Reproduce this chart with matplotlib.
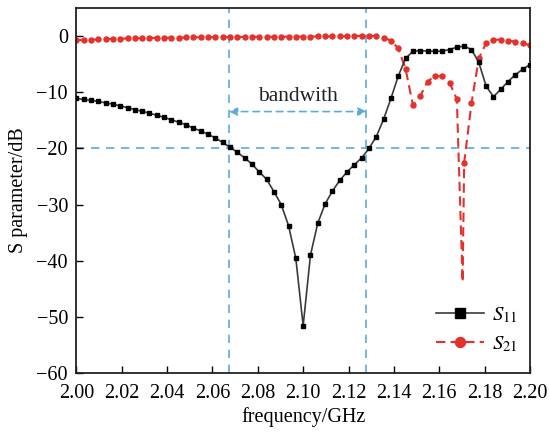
import matplotlib
matplotlib.use('Agg')
import matplotlib.pyplot as plt
import numpy as np

plt.rcParams['font.family'] = ['Liberation Serif', 'DejaVu Serif']
plt.rcParams['mathtext.fontset'] = 'stix'

# frequency sweep (GHz), 63 samples
freq = np.linspace(2.0, 2.2, 63)

s11 = [-11.1, -11.3, -11.45, -11.65, -11.9, -12.15, -12.45, -12.75, -13.1, -13.4,
       -13.75, -14.1, -14.5, -14.9, -15.35, -15.8, -16.4, -16.9, -17.5, -18.15,
       -18.95, -19.8, -20.7, -21.7, -22.8, -24.2, -25.5, -27.7, -30.0, -33.75,
       -39.6, -51.6, -39.0, -33.3, -29.9, -27.6, -25.7, -24.2, -22.9, -21.7,
       -20.0, -17.9, -14.8, -11.1, -7.1, -4.0, -2.7, -2.6, -2.7, -2.7,
       -2.7, -2.4, -2.0, -1.8, -2.4, -4.7, -8.9, -10.8, -9.5, -8.1,
       -6.9, -5.9, -5.1]

s21 = [-0.75, -0.7, -0.65, -0.6, -0.55, -0.5, -0.47, -0.44, -0.41, -0.38,
       -0.35, -0.33, -0.31, -0.29, -0.27, -0.25, -0.23, -0.22, -0.21, -0.2,
       -0.19, -0.18, -0.17, -0.16, -0.15, -0.14, -0.13, -0.12, -0.12, -0.11,
       -0.1, -0.1, -0.09, -0.08, -0.07, -0.06, -0.05, -0.04, 0.0, 0.05,
       0.05, -0.05, -0.3, -0.8, -2.2, -5.9, -12.3, -10.7, -8.1, -7.1,
       -7.2, -8.3, -11.25, -22.6, -12.0, -4.0, -1.25, -0.65, -0.65, -0.8,
       -1.0, -1.3, -1.6]

# deep notch of the S21 trace between two samples (no marker drawn there)
notch_f = 2.1703
notch_db = -43.8

band_lo, band_hi = 2.0673, 2.1279
level = -20

blue = '#58acdf'
red = '#e5312b'

fig = plt.figure(figsize=(5.49, 4.32), dpi=100)
ax = fig.add_axes([0.139, 0.1366, 0.8264, 0.845])

ax.axvline(band_lo, color=blue, ls=(0, (5, 4)), lw=1.2, zorder=1)
ax.axvline(band_hi, color=blue, ls=(0, (5, 4)), lw=1.2, zorder=1)
ax.axhline(level, color=blue, ls=(0, (5, 4)), lw=1.2, zorder=1)

ax.plot(freq, s11, color='#3a3a3a', lw=1.2, marker='s', ms=3.4,
        mfc='black', mec='black', label='$S_{11}$', zorder=3)

k = int(np.searchsorted(freq, notch_f))
f21 = np.insert(freq, k, notch_f)
d21 = np.insert(np.array(s21), k, notch_db)
marks = [i for i in range(len(f21)) if i != k]
ax.plot(f21, d21, color=red, lw=1.5, ls=(0, (4.5, 2.5)), marker='o', ms=3.6,
        mfc=red, mec=red, markevery=marks, label='$S_{21}$', zorder=2)

ax.annotate('', xy=(band_lo, -13.45), xytext=(band_hi, -13.45),
            arrowprops=dict(arrowstyle='<|-|>', color=blue, lw=1.2,
                            ls=(0, (4, 3)), shrinkA=0, shrinkB=0,
                            mutation_scale=12))
ax.text((band_lo + band_hi) / 2, -10.8, 'bandwith', ha='center', va='center',
        fontsize=15.5, color='#222222')

ax.set_xlim(2.0, 2.2)
ax.set_ylim(-60, 5)
ax.set_xticks(np.arange(2.0, 2.2001, 0.02))
ax.set_xticklabels(['%.2f' % v for v in np.arange(2.0, 2.2001, 0.02)])
ax.set_yticks(np.arange(-60, 1, 10))
ax.tick_params(direction='in', length=5, width=1, labelsize=14.5,
               top=False, right=False)
ax.tick_params(axis='x', pad=8)
ax.tick_params(axis='y', pad=6)
for s in ax.spines.values():
    s.set_linewidth(1.3)
    s.set_color('#222222')

ax.set_xlabel('frequency/GHz', fontsize=14.5, labelpad=3)
ax.set_ylabel('S parameter/dB', fontsize=14.5, labelpad=6)

ax.legend(loc='lower right', bbox_to_anchor=(1.015, 0.0), frameon=False,
          fontsize=15, markerscale=2.0, handlelength=2.3, labelspacing=0.45,
          handletextpad=0.4)

fig.savefig('out.png', dpi=100)
